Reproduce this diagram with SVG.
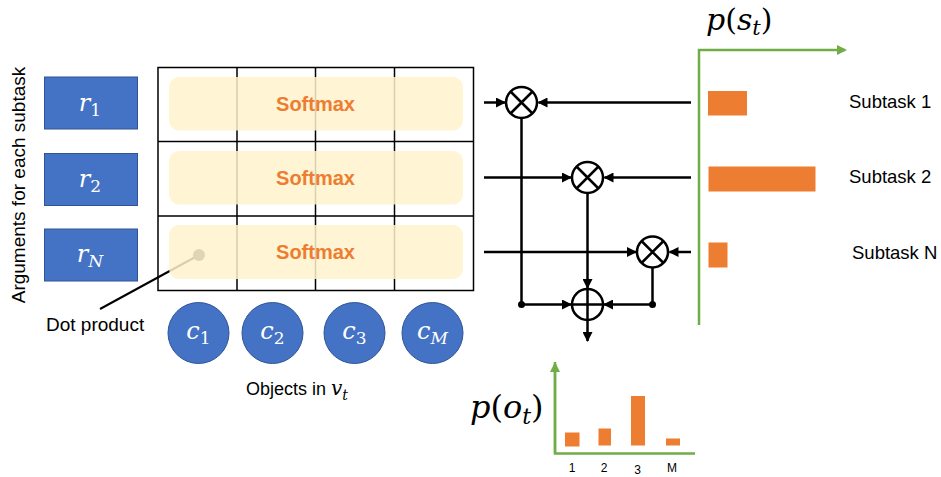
<svg xmlns="http://www.w3.org/2000/svg" width="941" height="477" viewBox="0 0 941 477">
  <defs>
    <marker id="arr" viewBox="0 0 10 10" refX="9" refY="5" markerWidth="4" markerHeight="4" orient="auto-start-reverse" markerUnits="strokeWidth">
      <path d="M0,0 L10,5 L0,10 z" fill="#000"/>
    </marker>
    <marker id="garr" viewBox="0 0 10 10" refX="8" refY="5" markerWidth="4" markerHeight="4" orient="auto" markerUnits="strokeWidth">
      <path d="M0,0 L10,5 L0,10 z" fill="#70AD47"/>
    </marker>
    <style>
      .sans { font-family: "Liberation Sans", Arial, sans-serif; fill: #000; }
      .math { font-family: "DejaVu Serif", "Liberation Serif", serif; font-style: italic; }
      .sub { font-style: normal; }
      .rbox { fill: #4472C4; stroke: #2F5597; stroke-width: 1; }
      .obj { fill: #4472C4; stroke: #2F5597; stroke-width: 1; }
      .grid { fill: none; stroke: #000; stroke-width: 1.5; }
      .soft { fill: #FFF2CC; fill-opacity: 0.85; }
      .softlbl { font-family: "Liberation Sans", Arial, sans-serif; font-weight: bold; font-size: 20px; fill: #ED7D31; }
      .wire { stroke: #000; stroke-width: 2.5; fill: none; }
      .wa { stroke: #000; stroke-width: 2.5; fill: none; marker-end: url(#arr); }
      .op { fill: #fff; stroke: #000; stroke-width: 2.5; }
      .axis { stroke: #70AD47; stroke-width: 2.5; fill: none; }
      .bar { fill: #ED7D31; }
    </style>
  </defs>

  <!-- vertical caption -->
  <text class="sans" font-size="19" transform="translate(25,185) rotate(-90)" text-anchor="middle">Arguments for each subtask</text>

  <!-- subtask argument boxes -->
  <g id="r1">
    <rect class="rbox" x="44.5" y="77" width="93" height="52"/>
    <text class="math" x="90" y="111" font-size="24" fill="#fff" text-anchor="middle">r<tspan class="sub" font-size="17" dy="5">1</tspan></text>
  </g>
  <g id="r2">
    <rect class="rbox" x="44.5" y="153.5" width="93" height="52"/>
    <text class="math" x="90" y="187" font-size="24" fill="#fff" text-anchor="middle">r<tspan class="sub" font-size="17" dy="5">2</tspan></text>
  </g>
  <g id="rN">
    <rect class="rbox" x="44.5" y="229" width="93" height="52"/>
    <text class="math" x="90" y="262" font-size="24" fill="#fff" text-anchor="middle">r<tspan font-size="17" dy="5">N</tspan></text>
  </g>

  <!-- dot product pointer (drawn beneath the softmax band) -->
  <g id="dot-product">
    <line x1="199" y1="255" x2="100" y2="309" stroke="#000" stroke-width="2"/>
    <circle cx="199" cy="255" r="6" fill="#333"/>
    <text class="sans" x="46" y="331" font-size="19">Dot product</text>
  </g>

  <!-- score grid -->
  <g id="grid">
    <rect class="grid" x="158" y="67.5" width="315.5" height="223"/>
    <line class="grid" x1="237" y1="67.5" x2="237" y2="290.5"/>
    <line class="grid" x1="315.5" y1="67.5" x2="315.5" y2="290.5"/>
    <line class="grid" x1="394.5" y1="67.5" x2="394.5" y2="290.5"/>
    <line class="grid" x1="158" y1="141.5" x2="473.5" y2="141.5"/>
    <line class="grid" x1="158" y1="216" x2="473.5" y2="216"/>
  </g>

  <!-- softmax bands -->
  <g id="softmax1">
    <rect class="soft" x="169" y="77" width="294" height="53.5" rx="10"/>
    <text class="softlbl" x="315.5" y="110.5" text-anchor="middle">Softmax</text>
  </g>
  <g id="softmax2">
    <rect class="soft" x="169" y="151" width="294" height="53.5" rx="10"/>
    <text class="softlbl" x="315.5" y="184.5" text-anchor="middle">Softmax</text>
  </g>
  <g id="softmax3">
    <rect class="soft" x="169" y="225" width="294" height="54" rx="10"/>
    <text class="softlbl" x="315.5" y="258.5" text-anchor="middle">Softmax</text>
  </g>

  <!-- objects -->
  <g id="c1">
    <circle class="obj" cx="198.5" cy="333" r="30.5"/>
    <text class="math" x="198.5" y="339" font-size="24" fill="#fff" text-anchor="middle">c<tspan class="sub" font-size="17" dy="5">1</tspan></text>
  </g>
  <g id="c2">
    <circle class="obj" cx="272.5" cy="333" r="30.5"/>
    <text class="math" x="272.5" y="339" font-size="24" fill="#fff" text-anchor="middle">c<tspan class="sub" font-size="17" dy="5">2</tspan></text>
  </g>
  <g id="c3">
    <circle class="obj" cx="354.5" cy="333" r="30.5"/>
    <text class="math" x="354.5" y="339" font-size="24" fill="#fff" text-anchor="middle">c<tspan class="sub" font-size="17" dy="5">3</tspan></text>
  </g>
  <g id="cM">
    <circle class="obj" cx="432.5" cy="333" r="30.5"/>
    <text class="math" x="432.5" y="339" font-size="24" fill="#fff" text-anchor="middle">c<tspan font-size="17" dy="5">M</tspan></text>
  </g>
  <text class="sans" x="246" y="395" font-size="18">Objects in <tspan class="math" font-size="20">v</tspan><tspan class="math" font-size="14" dy="5">t</tspan></text>

  <!-- weighting and summation connectors -->
  <g id="connectors">
    <!-- inputs from the softmax rows -->
    <line class="wa" x1="484" y1="102.5" x2="505" y2="102.5"/>
    <line class="wa" x1="484" y1="177.5" x2="571" y2="177.5"/>
    <line class="wa" x1="484" y1="252" x2="636" y2="252"/>
    <!-- inputs from subtask probabilities -->
    <line class="wa" x1="691" y1="102.5" x2="538.5" y2="102.5"/>
    <line class="wa" x1="691" y1="177.5" x2="604.5" y2="177.5"/>
    <line class="wa" x1="691" y1="252" x2="669.5" y2="252"/>
    <!-- products down to the sum -->
    <polyline class="wire" points="521.5,118 521.5,304.5"/>
    <line class="wa" x1="521.5" y1="304.5" x2="571" y2="304.5"/>
    <line class="wa" x1="587.5" y1="193" x2="587.5" y2="288"/>
    <polyline class="wire" points="652.5,268 652.5,304.5"/>
    <line class="wa" x1="652.5" y1="304.5" x2="604" y2="304.5"/>
    <circle cx="521.5" cy="304.5" r="3.5" fill="#000"/>
    <circle cx="652.5" cy="304.5" r="3.5" fill="#000"/>
    <!-- output -->
    <line class="wa" x1="587.5" y1="321" x2="587.5" y2="341"/>
  </g>

  <!-- multiply nodes -->
  <g id="mul1">
    <circle class="op" cx="521.5" cy="102.5" r="15.5"/>
    <path class="wire" d="M510.5,91.5 L532.5,113.5 M532.5,91.5 L510.5,113.5"/>
  </g>
  <g id="mul2">
    <circle class="op" cx="587.5" cy="177.5" r="15.5"/>
    <path class="wire" d="M576.5,166.5 L598.5,188.5 M598.5,166.5 L576.5,188.5"/>
  </g>
  <g id="mul3">
    <circle class="op" cx="652.5" cy="252" r="15.5"/>
    <path class="wire" d="M641.5,241 L663.5,263 M663.5,241 L641.5,263"/>
  </g>
  <g id="sum">
    <circle class="op" cx="587.5" cy="304.5" r="15.5"/>
    <path class="wire" d="M572,304.5 L603,304.5 M587.5,289 L587.5,320"/>
  </g>

  <!-- subtask probability chart -->
  <g id="subtask-chart">
    <text class="math" x="706" y="30" font-size="30">p<tspan class="sub">(</tspan>s<tspan font-size="21" dy="5">t</tspan><tspan class="sub" dy="-5">)</tspan></text>
    <polyline class="axis" points="699,325 699,50 845,50" marker-end="url(#garr)"/>
    <rect class="bar" x="708" y="91" width="39" height="24.5"/>
    <rect class="bar" x="708.5" y="166.5" width="107" height="25"/>
    <rect class="bar" x="708.5" y="242.5" width="19" height="25"/>
    <text class="sans" x="849" y="108" font-size="18.5">Subtask 1</text>
    <text class="sans" x="849" y="183" font-size="18.5">Subtask 2</text>
    <text class="sans" x="852" y="259" font-size="18.5">Subtask N</text>
  </g>

  <!-- object probability chart -->
  <g id="object-chart">
    <text class="math" x="470" y="418" font-size="32">p<tspan class="sub">(</tspan>o<tspan font-size="22" dy="6">t</tspan><tspan class="sub" dy="-6">)</tspan></text>
    <polyline class="axis" points="555,362 555,453.5 695,453.5"/>
    <line class="axis" x1="555" y1="453" x2="555" y2="364" marker-end="url(#garr)"/>
    <rect class="bar" x="565" y="432.5" width="14.5" height="14"/>
    <rect class="bar" x="598.5" y="428.5" width="12.5" height="17"/>
    <rect class="bar" x="631" y="396" width="14" height="49.5"/>
    <rect class="bar" x="666" y="438.5" width="14" height="7"/>
    <text class="sans" x="572" y="472" font-size="12" text-anchor="middle">1</text>
    <text class="sans" x="604" y="472" font-size="12" text-anchor="middle">2</text>
    <text class="sans" x="637.5" y="474" font-size="12" text-anchor="middle">3</text>
    <text class="sans" x="672" y="472" font-size="12" text-anchor="middle">M</text>
  </g>
</svg>
